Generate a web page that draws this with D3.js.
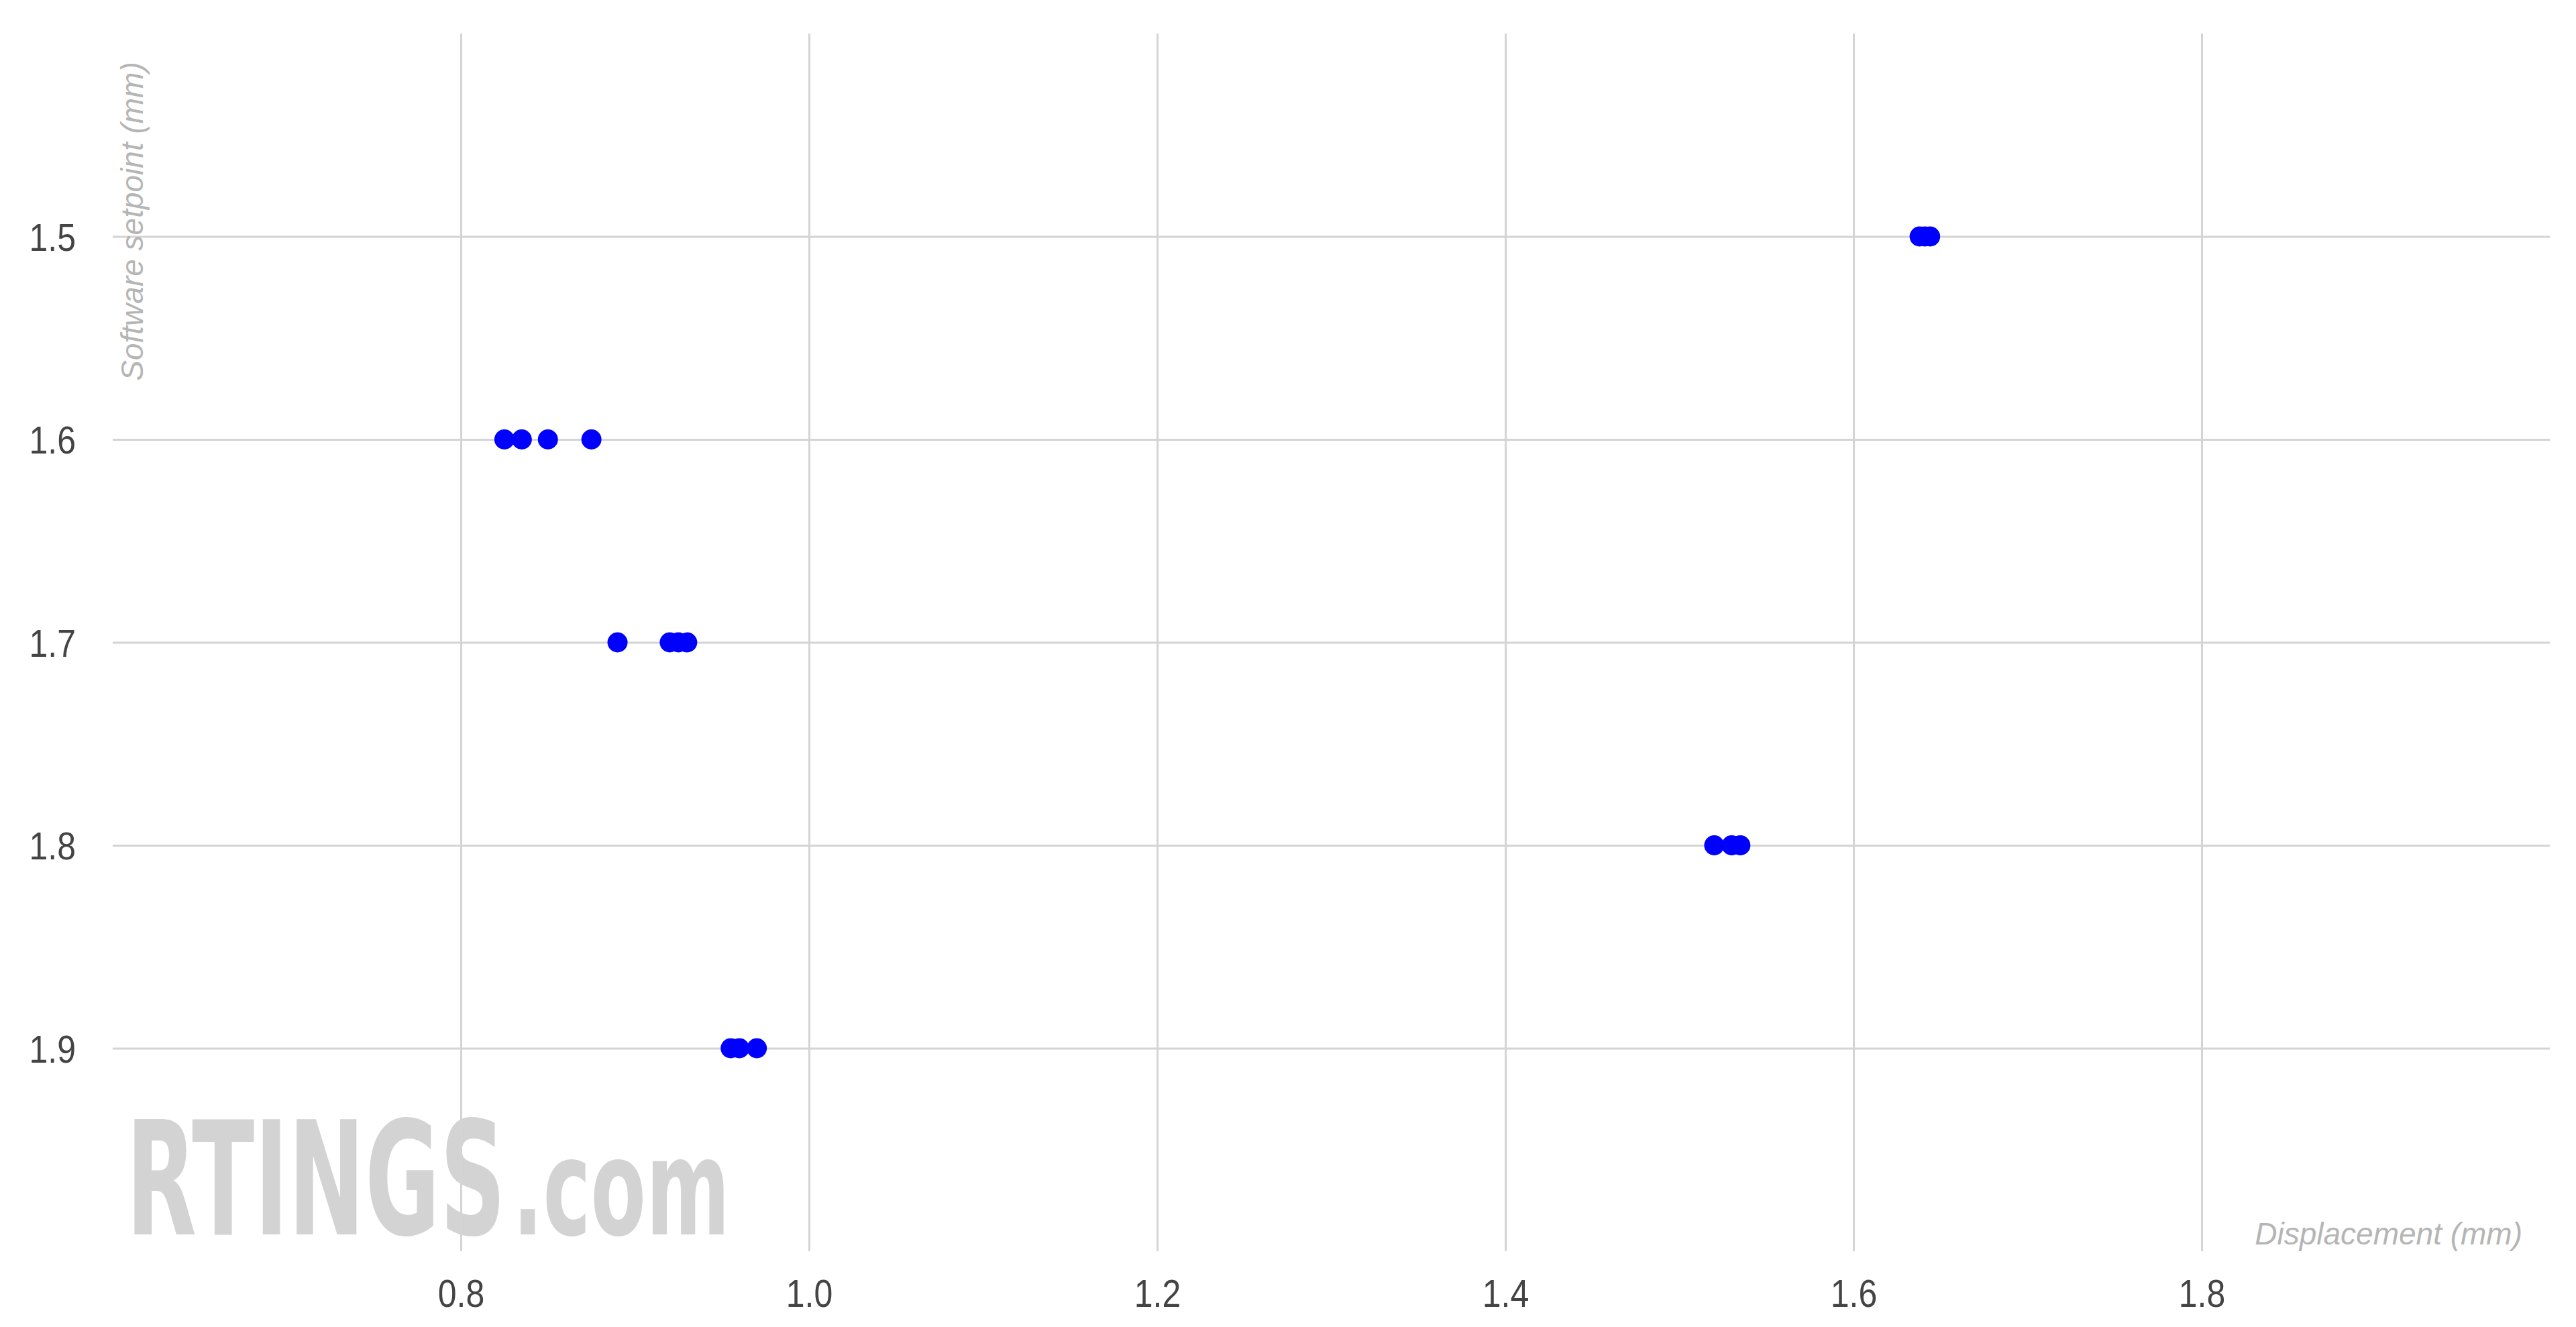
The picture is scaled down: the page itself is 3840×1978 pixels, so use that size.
<!DOCTYPE html>
<html>
<head>
<meta charset="utf-8">
<script src="https://cdn.jsdelivr.net/npm/d3@7"></script>
<style>
  html, body { margin: 0; padding: 0; background: #ffffff; }
  svg { display: block; }
</style>
</head>
<body>
<svg id="chart" width="3840" height="1978"></svg>
<script>
// ---- data ----
const xTicks = [0.8, 1.0, 1.2, 1.4, 1.6, 1.8];
const yTicks = [1.5, 1.6, 1.7, 1.8, 1.9];
const xDomain = [0.6, 2.0];
const yDomain = [1.4, 2.0];
const setpoint15 = [1.638, 1.641, 1.644];
const setpoint16 = [0.825, 0.835, 0.850, 0.875];
const setpoint17 = [0.890, 0.920, 0.925, 0.930];
const setpoint18 = [1.520, 1.530, 1.535];
const setpoint19 = [0.955, 0.960, 0.970];
const xTitle = "Displacement (mm)";
const yTitle = "Software setpoint (mm)";

const rows = [
  { y: 1.5, xs: setpoint15 },
  { y: 1.6, xs: setpoint16 },
  { y: 1.7, xs: setpoint17 },
  { y: 1.8, xs: setpoint18 },
  { y: 1.9, xs: setpoint19 }
];
const points = rows.flatMap(r => r.xs.map(x => ({ x, y: r.y })));

// ---- layout ----
const svg = d3.select("#chart");
const plotLeft = 168, plotRight = 3801, plotTop = 50, plotBottom = 1865;
const x = d3.scaleLinear().domain(xDomain).range([plotLeft, plotRight]);
const y = d3.scaleLinear().domain(yDomain).range([plotTop, plotBottom]);

const gridColor = "#d4d4d4";
const textFont = "'Liberation Sans', Arial, sans-serif";

// watermark (horizontally condensed via scale transform)
function watermark(str, px, py, size, targetWidth) {
  const t = svg.append("text").attr("fill", "#d3d3d3")
    .style("font-family", "'DejaVu Sans Condensed', 'Liberation Sans', sans-serif")
    .style("font-weight", "bold")
    .attr("font-size", size)
    .text(str);
  const w = t.node().getComputedTextLength();
  t.attr("transform", `translate(${px},${py}) scale(${targetWidth / w},1)`);
}
watermark("RTINGS", 188, 1840, 236, 566);
watermark(".com", 764, 1840, 200, 324);

// horizontal gridlines via axis
const yAxis = d3.axisLeft(y).tickValues(yTicks).tickSize(-(plotRight - plotLeft)).tickPadding(55)
  .tickFormat(d3.format(".1f"));
const gy = svg.append("g").attr("transform", `translate(${plotLeft},0)`).call(yAxis);
gy.select(".domain").remove();
gy.selectAll(".tick line").attr("stroke", gridColor).attr("stroke-width", 3);
gy.selectAll(".tick text").attr("fill", "#444").attr("font-size", 50)
  .style("font-family", textFont).attr("dy", "0.36em")
  .attr("transform", "scale(1,1.16)");

// vertical gridlines via axis
const xAxis = d3.axisBottom(x).tickValues(xTicks).tickSize(-(plotBottom - plotTop)).tickPadding(36)
  .tickFormat(d3.format(".1f"));
const gx = svg.append("g").attr("transform", `translate(0,${plotBottom})`).call(xAxis);
gx.select(".domain").remove();
gx.selectAll(".tick line").attr("stroke", gridColor).attr("stroke-width", 3);
gx.selectAll(".tick text").attr("fill", "#444").attr("font-size", 50)
  .style("font-family", textFont).attr("dy", "0.71em")
  .attr("transform", "scale(1,1.16)");

// axis titles
svg.append("text")
  .attr("transform", "translate(213,330) rotate(-90)")
  .attr("text-anchor", "middle")
  .attr("fill", "#b5b5b5").attr("font-size", 46).attr("font-style", "italic")
  .style("font-family", textFont)
  .text(yTitle);
svg.append("text")
  .attr("x", 3760).attr("y", 1855)
  .attr("text-anchor", "end")
  .attr("fill", "#b5b5b5").attr("font-size", 46).attr("font-style", "italic")
  .style("font-family", textFont)
  .text(xTitle);

// points
svg.append("g").selectAll("circle").data(points).join("circle")
  .attr("cx", d => x(d.x)).attr("cy", d => y(d.y)).attr("r", 15)
  .attr("fill", "#0000ff");
</script>
</body>
</html>
